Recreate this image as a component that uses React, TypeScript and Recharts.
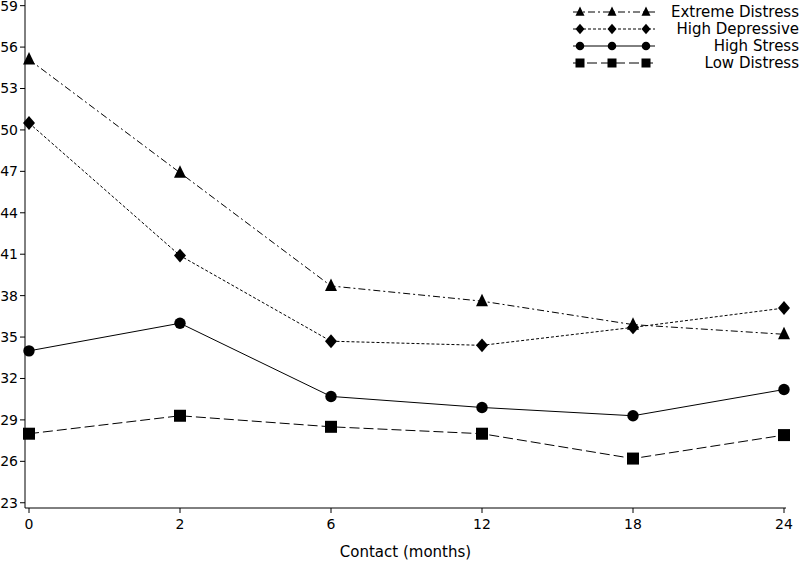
import React from 'react';
import { LineChart, Line, XAxis, YAxis, Legend } from 'recharts';

const months = ['0', '2', '6', '12', '18', '24'];
const extremeDistress = [55.1, 46.9, 38.7, 37.6, 35.9, 35.2];
const highDepressive = [50.5, 40.9, 34.7, 34.4, 35.7, 37.1];
const highStress = [34.0, 36.0, 30.7, 29.9, 29.3, 31.2];
const lowDistress = [28.0, 29.3, 28.5, 28.0, 26.2, 27.9];
const yTicks = [23, 26, 29, 32, 35, 38, 41, 44, 47, 50, 53, 56, 59];

const data = months.map((m, i) => ({
  month: m,
  extreme: extremeDistress[i],
  depressive: highDepressive[i],
  stress: highStress[i],
  low: lowDistress[i],
}));

type Shape = 'triangle' | 'diamond' | 'circle' | 'square';

const series: { key: string; name: string; shape: Shape; dash?: string }[] = [
  { key: 'extreme', name: 'Extreme Distress', shape: 'triangle', dash: '7 3 2 3' },
  { key: 'depressive', name: 'High Depressive', shape: 'diamond', dash: '3 2' },
  { key: 'stress', name: 'High Stress', shape: 'circle' },
  { key: 'low', name: 'Low Distress', shape: 'square', dash: '10 4' },
];

const FONT = '"DejaVu Sans", sans-serif';

function marker(shape: Shape, cx: number, cy: number, s: number, key?: string) {
  const h = s / 2;
  switch (shape) {
    case 'triangle':
      return (
        <polygon
          key={key}
          points={`${cx},${cy - s * 0.62} ${cx - h},${cy + s * 0.42} ${cx + h},${cy + s * 0.42}`}
          fill="#000"
        />
      );
    case 'diamond':
      return (
        <polygon
          key={key}
          points={`${cx},${cy - s * 0.58} ${cx + h},${cy} ${cx},${cy + s * 0.58} ${cx - h},${cy}`}
          fill="#000"
        />
      );
    case 'circle':
      return <circle key={key} cx={cx} cy={cy} r={h * 0.95} fill="#000" />;
    default:
      return <rect key={key} x={cx - h} y={cy - h} width={s} height={s} fill="#000" />;
  }
}

const makeDot = (shape: Shape) => (props: any) => {
  const { cx, cy, index } = props;
  if (cx == null || cy == null) return <g key={`d-${index}`} />;
  return <g key={`d-${shape}-${index}`}>{marker(shape, cx, cy, 12)}</g>;
};

const LegendContent = () => {
  const rows = [12, 29, 46, 63];
  return (
    <svg width={240} height={75} style={{ display: 'block' }}>
      {series.map((s, i) => {
        const y = rows[i];
        return (
          <g key={s.key}>
            <line x1={13} x2={95} y1={y} y2={y} stroke="#000" strokeWidth={1} strokeDasharray={s.dash} />
            {marker(s.shape, 20, y, 9, 'a')}
            {marker(s.shape, 52, y, 9, 'b')}
            {marker(s.shape, 86, y, 9, 'c')}
            <text x={239} y={y + 5} textAnchor="end" fontSize={15} fontFamily={FONT} fill="#000">
              {s.name}
            </text>
          </g>
        );
      })}
    </svg>
  );
};

export default function App() {
  return (
    <div style={{ position: 'absolute', left: 0, top: 0, width: 800, height: 562, background: '#fff' }}>
      <LineChart width={800} height={562} data={data} margin={{ top: 0, right: 14, left: 0, bottom: 0 }}>
        <XAxis
          dataKey="month"
          padding={{ left: 4, right: 2 }}
          height={54}
          tickSize={5}
          tickMargin={6}
          stroke="#000"
          tick={{ fill: '#000', fontSize: 14, fontFamily: FONT }}
          tickLine={{ stroke: '#000' }}
          axisLine={{ stroke: '#000' }}
          label={{ value: 'Contact (months)', position: 'insideBottom', offset: 5, fill: '#000', fontSize: 15, fontFamily: FONT }}
        />
        <YAxis
          type="number"
          domain={[22.62, 59.41]}
          ticks={yTicks}
          allowDataOverflow
          width={25}
          tickSize={5}
          tickMargin={2}
          stroke="#000"
          tick={{ fill: '#000', fontSize: 14, fontFamily: FONT }}
          tickLine={{ stroke: '#000' }}
          axisLine={{ stroke: '#000' }}
          interval={0}
        />
        <Legend
          layout="horizontal"
          verticalAlign="middle"
          align="center"
          wrapperStyle={{ top: 0, left: 560, width: 240, height: 75 }}
          content={<LegendContent />}
        />
        {series.map((s) => (
          <Line
            key={s.key}
            type="linear"
            dataKey={s.key}
            name={s.name}
            stroke="#000"
            strokeWidth={1}
            strokeDasharray={s.dash}
            dot={makeDot(s.shape)}
            activeDot={false}
            isAnimationActive={false}
          />
        ))}
      </LineChart>
    </div>
  );
}
